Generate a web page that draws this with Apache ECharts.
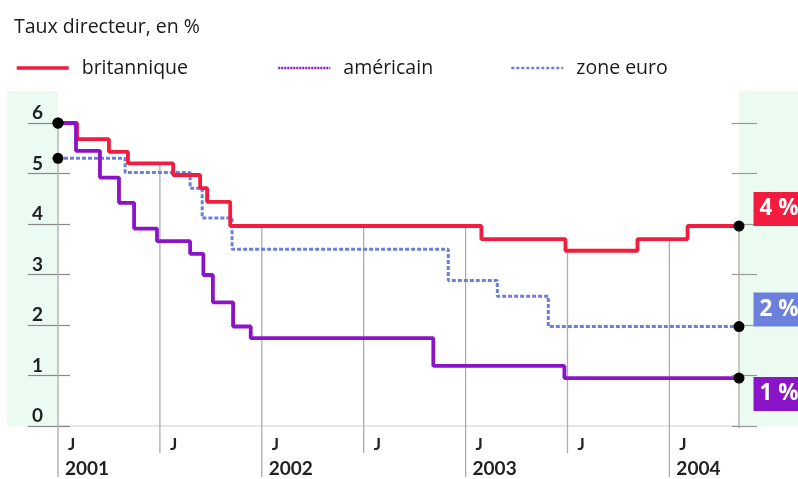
<!DOCTYPE html>
<html><head><meta charset="utf-8">
<script src="https://cdn.jsdelivr.net/npm/echarts@6/dist/echarts.min.js"></script>
<style>html,body{margin:0;padding:0;background:#fff}#c{width:798px;height:479px}</style>
</head><body><div id="c"></div>
<script>
// ---- data (months counted from January 2001) ----
const titleText = 'Taux directeur, en %';
const seriesNames = ['britannique', 'américain', 'zone euro'];
const ukMonths = [0, 1.12, 3.0, 4.12, 6.78, 8.37, 8.78, 10.14, 24.93, 29.88, 34.12, 37.07, 40.1];
const ukRates  = [6.0, 5.68, 5.43, 5.2, 4.97, 4.71, 4.44, 3.96, 3.7, 3.47, 3.7, 3.96, 3.96];
const usMonths = [0, 1.06, 2.47, 3.59, 4.48, 5.83, 7.78, 8.56, 9.12, 10.31, 11.35, 22.1, 29.82, 40.1];
const usRates  = [6.0, 5.45, 4.92, 4.42, 3.91, 3.66, 3.41, 2.99, 2.45, 1.97, 1.74, 1.19, 0.95, 0.95];
const euMonths = [0, 3.95, 7.78, 8.49, 10.25, 22.98, 25.87, 28.87, 40.1];
const euRates  = [5.3, 5.02, 4.71, 4.12, 3.5, 2.88, 2.57, 1.97, 1.97];
const endLabels = ['4 %', '1 %', '2 %'];
const xTickMonths = [0, 6, 12, 18, 24, 30, 36];
const firstYear = 2001;
const monthLabel = 'J';
const xMax = 40.1;

// ---- styles ----
const colors = ['#f31b3e', '#8a14c8', '#6b80da'];
const FONT = '"Open Sans", sans-serif';
const AXFONT = 'Lato';

const allMonths = [ukMonths, usMonths, euMonths];
const allRates = [ukRates, usRates, euRates];
const pairs = (ms, rs) => ms.map((m, i) => [m, rs[i]]);
function valueAt(ms, rs, m) {
  let v = rs[0];
  for (let i = 0; i < ms.length; i++) if (ms[i] <= m + 1e-9) v = rs[i];
  return v;
}
function topAt(m) {
  return Math.max(...allMonths.map((ms, k) => valueAt(ms, allRates[k], m)));
}
const gridData = xTickMonths.map(m => [m, topAt(m), m % 12 === 0 ? 2 : 1])
  .concat([[xMax, topAt(xMax), 0]]);

// dots: starts and ends
const dotData = [];
allMonths.forEach((ms, k) => {
  dotData.push({ value: [ms[0], allRates[k][0]] });
});
const labelOffsets = [[0, -17], [0, 16], [0, -17]];
allMonths.forEach((ms, k) => {
  const last = ms.length - 1;
  dotData.push({
    value: [ms[last], allRates[k][last]],
    label: {
      show: true, position: 'right', distance: 9, offset: labelOffsets[k],
      formatter: endLabels[k], color: '#fff', fontFamily: FONT, fontSize: 22.5, fontWeight: 'bold',
      backgroundColor: colors[k], padding: [5, 14, 5, 6], lineHeight: 24
    }
  });
});

const legendStyles = [
  { type: 'solid', width: 3.4 },
  { type: [2, 1], width: 2.6 },
  { type: [3, 2], width: 2.6 }
];
const lefts = [10, 272, 505];

const chart = echarts.init(document.getElementById('c'), null, { renderer: 'canvas' });
chart.setOption({
  animation: false,
  backgroundColor: '#fff',
  graphic: [
    { type: 'rect', shape: { x: 7, y: 91, width: 51, height: 336 }, style: { fill: '#ebfbf2' }, z: -10 },
    { type: 'rect', shape: { x: 739, y: 91, width: 59, height: 336 }, style: { fill: '#ebfbf2' }, z: -10 }
  ],
  title: { text: titleText, left: 9, top: 12, textStyle: { fontFamily: FONT, fontSize: 19.5, fontWeight: 500, color: '#1a1a1a' } },
  legend: seriesNames.map((n, k) => ({
    data: [{ name: n, lineStyle: Object.assign({ color: colors[k] }, legendStyles[k]), itemStyle: { opacity: 0 } }],
    left: lefts[k], top: 53, itemWidth: 52, itemHeight: 14, selectedMode: false,
    itemStyle: { opacity: 0 },
    textStyle: { fontFamily: FONT, fontSize: 19.5, fontWeight: 500, color: '#1a1a1a', padding: [0, 0, 0, 8] }
  })),
  grid: { left: 58, right: 59, top: 123, bottom: 53 },
  xAxis: {
    type: 'value', min: 0, max: xMax, interval: 6,
    axisLine: { show: true, lineStyle: { color: '#dcdde6', width: 1.5 } },
    axisTick: { show: false }, splitLine: { show: false },
    axisLabel: {
      align: 'left', margin: 7, showMaxLabel: false,
      formatter: v => v % 12 === 0 ? '{j|' + monthLabel + '}\n{y|' + (firstYear + v / 12) + '}' : '{j|' + monthLabel + '}',
      rich: {
        j: { fontFamily: AXFONT, fontSize: 17, fontWeight: 'bold', color: '#222', padding: [0, 0, 0, 10], lineHeight: 24 },
        y: { fontFamily: AXFONT, fontSize: 19, fontWeight: 'bold', color: '#222', padding: [0, 0, 0, 7], lineHeight: 24 }
      }
    }
  },
  yAxis: [
    { type: 'value', min: 0, max: 6, interval: 1, position: 'left',
      axisLine: { show: false }, splitLine: { show: false },
      axisTick: { show: true, length: 30, lineStyle: { color: '#888', width: 1.2 } },
      axisLabel: { margin: 15, align: 'right', verticalAlign: 'bottom', lineHeight: 20,
        fontFamily: AXFONT, fontSize: 19, fontWeight: 'bold', color: '#222' } },
    { type: 'value', min: 0, max: 6, interval: 1, position: 'left',
      axisLine: { show: false }, splitLine: { show: false }, axisLabel: { show: false },
      axisTick: { show: true, inside: true, length: 12, lineStyle: { color: '#888', width: 1.2 } } },
    { type: 'value', min: 0, max: 6, interval: 1, position: 'right',
      axisLine: { show: false }, splitLine: { show: false }, axisLabel: { show: false },
      axisTick: { show: true, length: 18, lineStyle: { color: '#999', width: 1.2 } } },
    { type: 'value', min: 0, max: 6, interval: 1, position: 'right',
      axisLine: { show: false }, splitLine: { show: false }, axisLabel: { show: false },
      axisTick: { show: true, inside: true, length: 7, lineStyle: { color: '#999', width: 1.2 } } }
  ],
  series: [
    { type: 'custom', name: 'grid', silent: true, clip: false, z: 1,
      data: gridData,
      renderItem: (params, api) => {
        const m = api.value(0), top = api.value(1), kind = api.value(2);
        const p0 = api.coord([m, top]);
        const p1 = api.coord([m, 0]);
        const ext = kind === 2 ? 51 : (kind === 1 ? 27 : 2);
        return { type: 'line', shape: { x1: p0[0], y1: p0[1], x2: p1[0], y2: p1[1] + ext },
          style: { stroke: '#acacac', lineWidth: 1.3 } };
      } },
    { type: 'line', name: seriesNames[2], step: 'end', data: pairs(euMonths, euRates), symbol: 'none', z: 2,
      color: colors[2], lineStyle: { color: colors[2], width: 3, type: [4, 2] } },
    { type: 'line', name: seriesNames[0], step: 'end', data: pairs(ukMonths, ukRates), symbol: 'none', z: 3,
      color: colors[0], lineStyle: { color: colors[0], width: 3.8 } },
    { type: 'line', name: seriesNames[1], step: 'end', data: pairs(usMonths, usRates), symbol: 'none', z: 4,
      color: colors[1], lineStyle: { color: colors[1], width: 3.8 } },
    { type: 'scatter', name: 'dots', data: dotData, symbol: 'circle', symbolSize: 11, z: 10,
      itemStyle: { color: '#000', opacity: 1 }, silent: true }
  ]
});
</script></body></html>
